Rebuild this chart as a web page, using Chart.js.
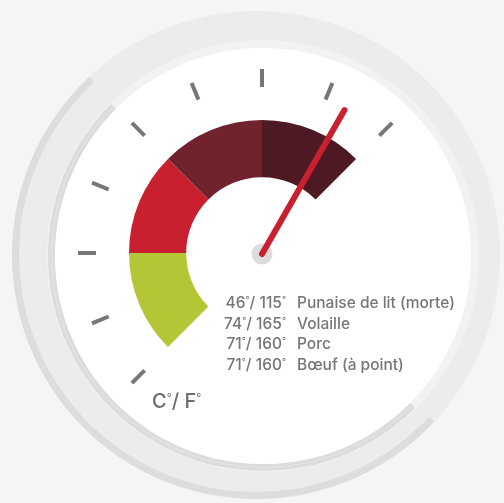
<!DOCTYPE html>
<html lang="fr">
<head>
  <meta charset="UTF-8" />
  <title>Thermomètre de cuisson</title>
  <script src="https://cdn.jsdelivr.net/npm/chart.js"></script>
  <style>
    body { margin: 0; background: #f5f5f5; }
    #gauge { display: block; }
  </style>
</head>
<body>
<canvas id="gauge" width="504" height="503"></canvas>

<script>
// dial zones, clockwise from bottom-left (green) to upper-right (dark maroon)
const zoneSizes = [45, 45, 45, 45];
const zoneColors = ['#b4c535', '#c8202f', '#71232d', '#4d1922'];
const dialRest = 180;            // hidden lower-right half of the dial
const needleValue = 165;         // needle position on the 0-180 dial
const dialTicks = [0, 22.5, 45, 67.5, 90, 112.5, 135, 157.5, 180];

const foodNames = ['Punaise de lit (morte)', 'Volaille', 'Porc', 'Bœuf (à point)'];
const tempC = [46, 74, 71, 71];
const tempF = [115, 165, 160, 160];
const unitLabel = 'C°/ F°';

const FONT = 'Inter, "Open Sans", sans-serif';
const dialSpan = zoneSizes.reduce((a, b) => a + b, 0);

function arcBand(ctx, x, y, r0, r1, a0, a1, color) {
  ctx.beginPath();
  ctx.arc(x, y, r1, a0, a1);
  ctx.arc(x, y, r0, a1, a0, true);
  ctx.closePath();
  ctx.fillStyle = color;
  ctx.fill();
}

// text with small raised degree signs
function degText(ctx, str, x, y, size, align) {
  const parts = str.split('°');
  const big = `500 ${size}px ${FONT}`;
  const small = `400 ${Math.round(size * 0.55)}px ${FONT}`;
  let w = 0;
  parts.forEach((p, i) => {
    ctx.font = big; w += ctx.measureText(p).width;
    if (i < parts.length - 1) { ctx.font = small; w += ctx.measureText('°').width; }
  });
  let cx = align === 'right' ? x - w : x;
  ctx.textAlign = 'left';
  ctx.textBaseline = 'alphabetic';
  parts.forEach((p, i) => {
    ctx.font = big; ctx.fillText(p, cx, y); cx += ctx.measureText(p).width;
    if (i < parts.length - 1) {
      ctx.font = small; ctx.fillText('°', cx, y - size * 0.33); cx += ctx.measureText('°').width;
    }
  });
}

const dialFace = {
  id: 'dialFace',
  beforeDraw(chart) {
    const ctx = chart.ctx;
    const arc = chart.getDatasetMeta(0).data[0];
    const cx = arc.x, cy = arc.y;
    const deg = Math.PI / 180;
    ctx.save();
    ctx.fillStyle = '#f5f5f5';
    ctx.fillRect(0, 0, chart.width, chart.height);
    // outer disc
    const ox = cx - 6, oy = cy + 2;
    ctx.beginPath(); ctx.arc(ox, oy, 244, 0, 2 * Math.PI);
    ctx.fillStyle = '#ececec'; ctx.fill();
    arcBand(ctx, ox, oy, 237, 244, 43 * deg, 227 * deg, '#dcdddf');
    // face ring + white face
    const fx = cx + 1, fy = cy + 3;
    ctx.beginPath(); ctx.arc(fx, fy, 216, 0, 2 * Math.PI);
    ctx.fillStyle = '#f2f2f2'; ctx.fill();
    arcBand(ctx, fx, fy, 208, 215, 45 * deg, 225 * deg, '#dcdcde');
    ctx.beginPath(); ctx.arc(fx, fy, 211.5, 45 * deg, 225 * deg);
    ctx.strokeStyle = '#e6e6e7'; ctx.lineWidth = 1; ctx.stroke();
    ctx.beginPath(); ctx.arc(fx, fy, 208, 0, 2 * Math.PI);
    ctx.fillStyle = '#ffffff'; ctx.fill();
    ctx.restore();
  },
  afterDatasetsDraw(chart) {
    const ctx = chart.ctx;
    const arc = chart.getDatasetMeta(0).data[0];
    const cx = arc.x, cy = arc.y, R = arc.outerRadius;
    const start = arc.startAngle;
    const toAngle = v => start + v / dialSpan * Math.PI;
    ctx.save();
    // ticks
    ctx.strokeStyle = '#777777';
    ctx.lineWidth = 4;
    ctx.lineCap = 'butt';
    dialTicks.forEach(t => {
      const a = toAngle(t);
      ctx.beginPath();
      ctx.moveTo(cx + Math.cos(a) * (R + 33), cy + Math.sin(a) * (R + 33));
      ctx.lineTo(cx + Math.cos(a) * (R + 51), cy + Math.sin(a) * (R + 51));
      ctx.stroke();
    });
    // pivot + needle
    ctx.beginPath(); ctx.arc(cx, cy + 1, 10.5, 0, 2 * Math.PI);
    ctx.fillStyle = '#dcdcde'; ctx.fill();
    const a = toAngle(needleValue);
    ctx.beginPath();
    ctx.moveTo(cx, cy + 1);
    ctx.lineTo(cx + Math.cos(a) * (R + 32), cy + Math.sin(a) * (R + 32));
    ctx.strokeStyle = '#c8202f';
    ctx.lineWidth = 6;
    ctx.lineCap = 'round';
    ctx.stroke();
    ctx.restore();
  },
  afterDraw(chart) {
    const ctx = chart.ctx;
    ctx.save();
    ctx.fillStyle = '#767676';
    foodNames.forEach((name, i) => {
      const y = 308 + i * 20.7;
      degText(ctx, `${tempC[i]}°/ ${tempF[i]}°`, 286, y, 15.5, 'right');
      ctx.font = `500 15.5px ${FONT}`;
      ctx.textAlign = 'left';
      ctx.fillText(name, 297, y);
    });
    ctx.fillStyle = '#6e6e6e';
    degText(ctx, unitLabel, 152, 408, 20, 'left');
    ctx.restore();
  }
};

new Chart(document.getElementById('gauge'), {
  type: 'doughnut',
  data: {
    labels: ['zone 1', 'zone 2', 'zone 3', 'zone 4', ''],
    datasets: [{
      data: [...zoneSizes, dialRest],
      backgroundColor: [...zoneColors, 'rgba(0,0,0,0)'],
      borderWidth: 0,
      hoverOffset: 0
    }]
  },
  options: {
    responsive: false,
    animation: false,
    events: [],
    rotation: -135,
    cutout: '57%',
    layout: { padding: { left: 129, right: 109, top: 120, bottom: 117 } },
    plugins: { legend: { display: false }, tooltip: { enabled: false } }
  },
  plugins: [dialFace]
});
</script>
</body>
</html>
